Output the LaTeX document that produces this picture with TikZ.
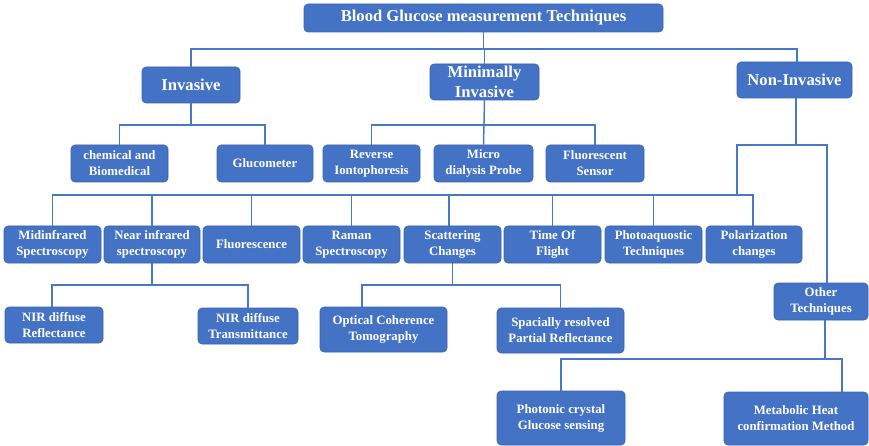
\documentclass[tikz,border=0pt]{standalone}
\usepackage{fontspec}
\setmainfont{Liberation Serif}
\definecolor{boxblue}{HTML}{4472C4}
\definecolor{edgeblue}{HTML}{3A63AE}
\definecolor{lineblue}{HTML}{4A78C8}
\begin{document}
\begin{tikzpicture}[x=1pt,y=-1pt,
  box/.style={rounded corners=4pt, fill=boxblue, draw=edgeblue, line width=0.6pt,
    text=white, align=center, inner sep=0pt},
  bigbox/.style={box, font=\fontsize{16.6}{19.5}\selectfont\bfseries},
  smallbox/.style={box, font=\fontsize{12.8}{16}\selectfont\bfseries},
  conn/.style={draw=lineblue, line width=1.5pt}]
\useasboundingbox (0,0) rectangle (869,446);
% level 0 and 1
\node[bigbox, minimum width=359, minimum height=28] (title) at (483.5,18) {Blood Glucose measurement Techniques};
\node[bigbox, minimum width=98, minimum height=36] (inv) at (191,85) {Invasive};
\node[bigbox, minimum width=109, minimum height=36] (mini) at (484.5,82) {Minimally\\Invasive};
\node[bigbox, minimum width=115, minimum height=36] (non) at (794.5,80) {Non-Invasive};
% level 2
\node[smallbox, minimum width=97, minimum height=37] (chem) at (119.5,163.5) {chemical and\\Biomedical};
\node[smallbox, minimum width=96, minimum height=37] (gluc) at (265,163.5) {Glucometer};
\node[smallbox, minimum width=97, minimum height=37] (rev) at (371.5,163.5) {Reverse\\Iontophoresis};
\node[smallbox, minimum width=99, minimum height=37] (micro) at (483.5,163.5) {Micro\\dialysis Probe};
\node[smallbox, minimum width=98, minimum height=37] (fsens) at (595,163.5) {Fluorescent\\Sensor};
% level 3
\node[smallbox, minimum width=97, minimum height=37] (mid) at (52.5,244.5) {Midinfrared\\Spectroscopy};
\node[smallbox, minimum width=96, minimum height=37] (nir) at (152,244.5) {Near infrared\\spectroscopy};
\node[smallbox, minimum width=97, minimum height=37] (fluor) at (251.5,244.5) {Fluorescence};
\node[smallbox, minimum width=97, minimum height=37] (raman) at (351.5,244.5) {Raman\\Spectroscopy};
\node[smallbox, minimum width=97, minimum height=37] (scat) at (452.5,244.5) {Scattering\\Changes};
\node[smallbox, minimum width=97, minimum height=37] (tof) at (552.5,244.5) {Time Of\\Flight};
\node[smallbox, minimum width=97, minimum height=37] (photo) at (653.5,244.5) {Photoaquostic\\Techniques};
\node[smallbox, minimum width=96, minimum height=37] (polar) at (754,244.5) {Polarization\\changes};
% level 4
\node[smallbox, minimum width=98, minimum height=36] (nirr) at (54,325) {NIR diffuse\\Reflectance};
\node[smallbox, minimum width=100, minimum height=36] (nirt) at (248,326) {NIR diffuse\\Transmittance};
\node[smallbox, minimum width=127, minimum height=45] (oct) at (383.5,329.5) {Optical Coherence\\Tomography};
\node[smallbox, minimum width=127, minimum height=45] (spr) at (560.5,330.5) {Spacially resolved\\Partial Reflectance};
\node[smallbox, minimum width=94, minimum height=37] (other) at (821,301.5) {Other\\Techniques};
\node[smallbox, minimum width=128, minimum height=54] (phot) at (561,418) {Photonic crystal\\Glucose sensing};
\node[smallbox, minimum width=144, minimum height=53] (meta) at (796,418.5) {Metabolic Heat\\confirmation Method};
% bus coordinates
\coordinate (b1) at (0,49);
\coordinate (b2) at (0,125);
\coordinate (b3) at (0,145);
\coordinate (b4) at (0,195);
\coordinate (b5) at (0,285);
\coordinate (b6) at (0,359);
% top level connectors
\draw[conn] (title.south) -- (title.south |- b1);
\draw[conn] (inv.north) -- (inv.north |- b1) -- ([xshift=2.5pt]non.north |- b1) -- ([xshift=2.5pt]non.north);
\draw[conn] (mini.north) -- (mini.north |- b1);
% invasive
\draw[conn] (inv.south) -- (inv.south |- b2);
\draw[conn] (chem.north) -- (chem.north |- b2) -- (gluc.north |- b2) -- (gluc.north);
% minimally invasive
\draw[conn] (mini.south) -- (micro.north);
\draw[conn] (rev.north) -- (rev.north |- b2) -- (fsens.north |- b2) -- (fsens.north);
% non-invasive
\coordinate (nl) at (737,145);
\coordinate (nr) at (827,145);
\draw[conn] ([xshift=1.5pt]non.south) -- ([xshift=1.5pt]non.south |- b3);
\draw[conn] (nl |- b4) -- (nl) -- (nr) -- (nr |- other.north);
\draw[conn] (mid.north) -- (mid.north |- b4) -- ([xshift=-1pt]polar.north |- b4) -- ([xshift=-1pt]polar.north);
\foreach \n in {nir,fluor,raman,tof,photo}
  \draw[conn] (\n.north) -- (\n.north |- b4);
\draw[conn] ([xshift=-3.5pt]scat.north) -- ([xshift=-3.5pt]scat.north |- b4);
% near infrared
\draw[conn] (nir.south) -- (nir.south |- b5);
\draw[conn] ([xshift=-2pt]nirr.north) -- ([xshift=-2pt]nirr.north |- b5) -- (nirt.north |- b5) -- (nirt.north);
% scattering
\draw[conn] (scat.south) -- (scat.south |- b5);
\draw[conn] ([xshift=-21.5pt]oct.north) -- ([xshift=-21.5pt]oct.north |- b5) -- (spr.north |- b5) -- (spr.north);
% other techniques
\draw[conn] ([xshift=4pt]other.south) -- ([xshift=4pt]other.south |- b6);
\draw[conn] (phot.north) -- (phot.north |- b6) -- ([xshift=46pt]meta.north |- b6) -- ([xshift=46pt]meta.north);
\end{tikzpicture}
\end{document}
